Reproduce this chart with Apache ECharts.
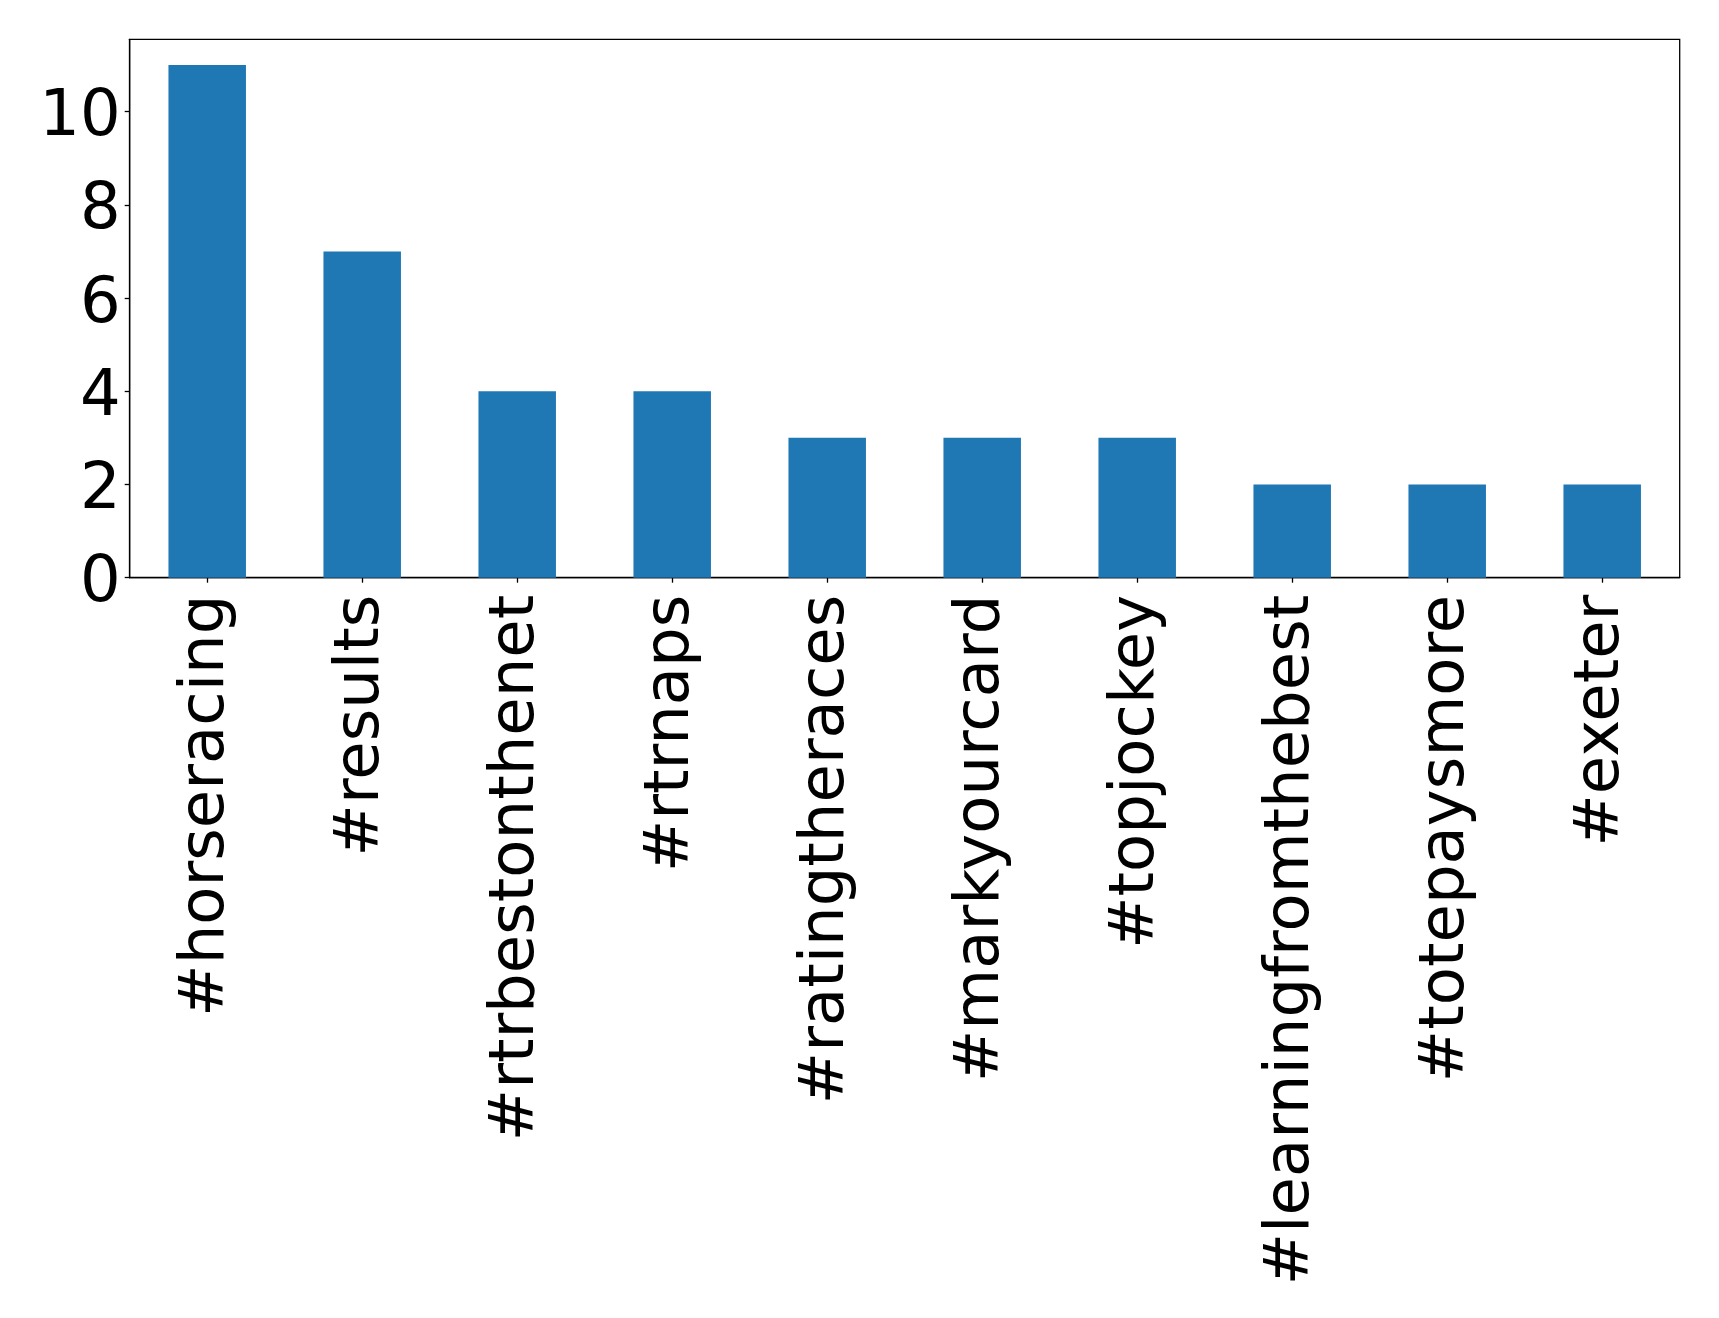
<!DOCTYPE html>
<html>
<head>
<meta charset="utf-8">
<script src="https://cdn.jsdelivr.net/npm/echarts@6/dist/echarts.min.js"></script>
<style>
html,body{margin:0;padding:0;background:#fff;}
#chart{width:1719px;height:1318px;}
</style>
</head>
<body>
<div id="chart"></div>
<script>
const categories = ['#horseracing','#results','#rtrbestonthenet','#rtrnaps','#ratingtheraces','#markyourcard','#topjockey','#learningfromthebest','#totepaysmore','#exeter'];
const counts = [11, 7, 4, 4, 3, 3, 3, 2, 2, 2];
const yTicks = [0, 2, 4, 6, 8, 10];

const chart = echarts.init(document.getElementById('chart'), null, {renderer: 'canvas'});
const font = 'DejaVu Sans';
chart.setOption({
  animation: false,
  backgroundColor: '#ffffff',
  grid: {
    left: 129.7, right: 39.3, top: 39.3, bottom: 740.3,
    show: true, borderColor: '#000', borderWidth: 1.3, backgroundColor: 'transparent'
  },
  xAxis: {
    type: 'category',
    data: categories,
    boundaryGap: true,
    axisLine: {show: true, lineStyle: {color: '#000', width: 1.3}},
    axisTick: {show: true, alignWithLabel: true, length: 5, lineStyle: {color: '#000', width: 1.3}},
    axisLabel: {
      rotate: 90, interval: 0, margin: 17,
      color: '#000', fontFamily: font, fontSize: 62.5
    },
    splitLine: {show: false}
  },
  yAxis: {
    type: 'value',
    min: 0, max: 11.55, interval: 2,
    axisLine: {show: true, lineStyle: {color: '#000', width: 1.3}},
    axisTick: {show: true, length: 5, lineStyle: {color: '#000', width: 1.3}},
    axisLabel: {
      margin: 9, color: '#000', fontFamily: font, fontSize: 64,
      showMaxLabel: false,
      formatter: function (v) { return yTicks.indexOf(v) >= 0 ? '{a|' + v + '}' : ''; },
      rich: {a: {fontFamily: font, fontSize: 64, color: '#000', padding: [14, 0, 0, 0]}}
    },
    splitLine: {show: false}
  },
  series: [{
    type: 'bar',
    data: counts,
    barWidth: '50%',
    itemStyle: {color: '#1f77b4'}
  }]
});
</script>
</body>
</html>
